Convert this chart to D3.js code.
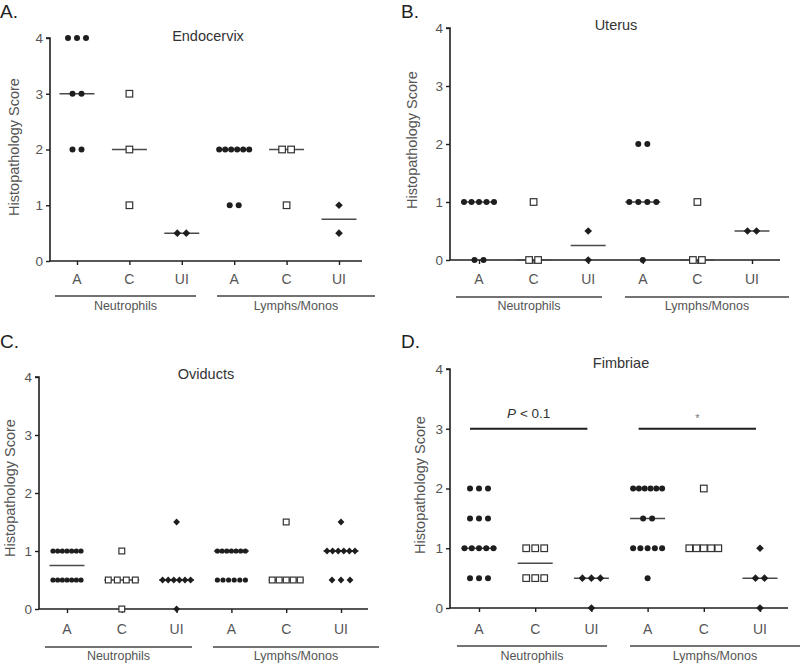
<!DOCTYPE html>
<html><head><meta charset="utf-8">
<script src="https://cdn.jsdelivr.net/npm/d3@7"></script>
<style>body{margin:0;background:#fff}svg{display:block;font-family:"Liberation Sans",Arial,sans-serif}</style>
</head><body><svg id="c" width="800" height="666"></svg>
<script>
// ---- data ----
const categories = ["A","C","UI","A","C","UI"];
const markerTypes = ["circle","square","diamond","circle","square","diamond"];
const groups = ["Neutrophils","Lymphs/Monos"];
const yTicks = [0,1,2,3,4];
const panelLetters = ["A.","B.","C.","D."];
const panelTitles = ["Endocervix","Uterus","Oviducts","Fimbriae"];
const endocervixScores = [
  [4,4,4,3,3,2,2],
  [3,2,1],
  [0.5,0.5],
  [2,2,2,2,2,2,1,1],
  [2,2,1],
  [1,0.5]
];
const uterusScores = [
  [1,1,1,1,1,0,0],
  [1,0,0],
  [0.5,0],
  [2,2,1,1,1,1,0],
  [1,0,0],
  [0.5,0.5]
];
const oviductScores = [
  [1,1,1,1,1,1,1,0.5,0.5,0.5,0.5,0.5,0.5,0.5],
  [1,0.5,0.5,0.5,0.5,0],
  [1.5,0.5,0.5,0.5,0.5,0.5,0.5,0],
  [1,1,1,1,1,1,1,0.5,0.5,0.5,0.5,0.5,0.5],
  [1.5,0.5,0.5,0.5,0.5,0.5],
  [1.5,1,1,1,1,1,1,0.5,0.5,0.5]
];
const fimbriaeScores = [
  [2,2,2,1.5,1.5,1.5,1,1,1,1,1,0.5,0.5,0.5],
  [1,1,1,0.5,0.5,0.5],
  [0.5,0.5,0.5,0],
  [2,2,2,2,2,2,1.5,1.5,1,1,1,1,1,0.5],
  [2,1,1,1,1,1],
  [1,0.5,0.5,0]
];
const fimbriaeSigLabels = ["P < 0.1","*"];
const fimbriaeSigLevel = 3;

// ---- layout ----
const panels = [
  {scores:endocervixScores, ax:50, axEnd:362, yTop:38, yBot:261, c0:77, c5:339, r:3, span:30,
   letter:[0,18], title:[208,41], ylab:[14,147], tickLab:284, gLine:296, gLines:[[55,196],[217,375]], gLab:310},
  {scores:uterusScores, ax:450, axEnd:780, yTop:28, yBot:260, c0:479, c5:752, r:3, span:30,
   letter:[401,18], title:[616,30], ylab:[412,140], tickLab:284, gLine:297, gLines:[[456,602],[625,789]], gLab:310},
  {scores:oviductScores, ax:39, axEnd:368, yTop:377, yBot:609, c0:67, c5:341, r:2.6, span:28,
   letter:[0,348], title:[206,379], ylab:[10,488], tickLab:634, gLine:647, gLines:[[45,192],[213,379]], gLab:660},
  {scores:fimbriaeScores, ax:450, axEnd:788, yTop:369, yBot:608, c0:479, c5:760, r:3, span:29,
   letter:[401,348], title:[621,368], ylab:[420,485], tickLab:634, gLine:646, gLines:[[457,607],[630,800]], gLab:660}
];

const svg = d3.select("#c");
const ink = "#1e1e1e", grey = "#555";

panels.forEach((p, pi) => {
  const g = svg.append("g");
  const y = d3.scaleLinear().domain([0,4]).range([p.yBot, p.yTop]);
  const x = d3.scalePoint().domain(d3.range(categories.length)).range([p.c0, p.c5]);

  g.append("text").attr("x", p.letter[0]).attr("y", p.letter[1])
    .attr("font-size", 19).attr("fill", "#222").text(panelLetters[pi]);
  g.append("text").attr("x", p.title[0]).attr("y", p.title[1]).attr("text-anchor","middle")
    .attr("font-size", 14.5).attr("fill", "#333").text(panelTitles[pi]);
  g.append("text").attr("transform", `translate(${p.ylab[0]},${p.ylab[1]}) rotate(-90)`)
    .attr("text-anchor","middle").attr("dominant-baseline","central")
    .attr("font-size", 14.5).attr("fill", grey).text("Histopathology Score");

  // y axis
  const yAxis = d3.axisLeft(y).tickValues(yTicks).tickSize(4).tickPadding(3).tickFormat(d3.format("d"));
  const ya = g.append("g").attr("transform", `translate(${p.ax},0)`).call(yAxis);
  ya.select(".domain").attr("stroke", ink).attr("stroke-width", 1.6).attr("d", `M-4,${p.yTop}H0V${p.yBot}`);
  ya.selectAll(".tick line").attr("stroke", ink).attr("stroke-width", 1.4);
  ya.selectAll(".tick text").attr("font-size", 13.5).attr("fill", grey).attr("font-family", "inherit");

  // x axis
  const xAxis = d3.axisBottom(x).tickSize(4).tickFormat(() => "");
  const xa = g.append("g").attr("transform", `translate(0,${p.yBot})`).call(xAxis);
  xa.select(".domain").attr("stroke", ink).attr("stroke-width", 1.6).attr("d", `M${p.ax},0H${p.axEnd}`);
  xa.selectAll(".tick line").attr("stroke", ink).attr("stroke-width", 1.4);
  categories.forEach((c, i) => {
    g.append("text").attr("x", x(i)).attr("y", p.tickLab).attr("text-anchor","middle")
      .attr("font-size", 14).attr("fill", grey).text(c);
  });

  // group lines & labels
  groups.forEach((gr, gi) => {
    const [a, b] = p.gLines[gi];
    g.append("line").attr("x1", a).attr("x2", b).attr("y1", p.gLine).attr("y2", p.gLine)
      .attr("stroke", "#444").attr("stroke-width", 1.6);
    g.append("text").attr("x", (a + b) / 2).attr("y", p.gLab).attr("text-anchor","middle")
      .attr("font-size", 12.5).attr("fill", grey).text(gr);
  });

  // points & medians
  p.scores.forEach((vals, ci) => {
    const cx = x(ci);
    const med = d3.median(vals);
    g.append("line").attr("x1", cx - 17.5).attr("x2", cx + 17.5).attr("y1", y(med)).attr("y2", y(med))
      .attr("stroke", "#4a4a4a").attr("stroke-width", 1.5);
    const rows = d3.group(vals, v => v);
    rows.forEach((arr, v) => {
      const n = arr.length;
      const s = n > 1 ? Math.min(9, p.span / (n - 1)) : 0;
      arr.forEach((_, k) => {
        const px = cx + (k - (n - 1) / 2) * s;
        const py = y(v);
        const t = markerTypes[ci];
        if (t === "circle") {
          g.append("circle").attr("cx", px).attr("cy", py).attr("r", p.r).attr("fill", ink);
        } else if (t === "square") {
          const h = p.r + 0.3;
          g.append("rect").attr("x", px - h).attr("y", py - h).attr("width", 2*h).attr("height", 2*h)
            .attr("fill", "#fff").attr("stroke", "#333").attr("stroke-width", 1.2);
        } else {
          const d = p.r + 0.8;
          g.append("path").attr("d", `M${px},${py-d}L${px+d},${py}L${px},${py+d}L${px-d},${py}Z`).attr("fill", ink);
        }
      });
    });
  });

  // significance (Fimbriae)
  if (pi === 3) {
    const sy = y(fimbriaeSigLevel);
    const pairs = [[0,2],[3,5]];
    pairs.forEach(([a, b], k) => {
      const x1 = x(a) - 9, x2 = x(b) - 4;
      g.append("line").attr("x1", x1).attr("x2", x2).attr("y1", sy).attr("y2", sy)
        .attr("stroke", ink).attr("stroke-width", 1.8);
      const tx = (x1 + x2) / 2;
      if (k === 0) {
        const t = g.append("text").attr("x", tx).attr("y", sy - 11).attr("text-anchor","middle")
          .attr("font-size", 13.5).attr("fill", "#333");
        t.append("tspan").attr("font-style","italic").text("P");
        t.append("tspan").text(fimbriaeSigLabels[0].slice(1));
      } else {
        g.append("text").attr("x", tx).attr("y", sy - 7).attr("text-anchor","middle")
          .attr("font-size", 11).attr("fill", "#777").text(fimbriaeSigLabels[1]);
      }
    });
  }
});
</script></body></html>
